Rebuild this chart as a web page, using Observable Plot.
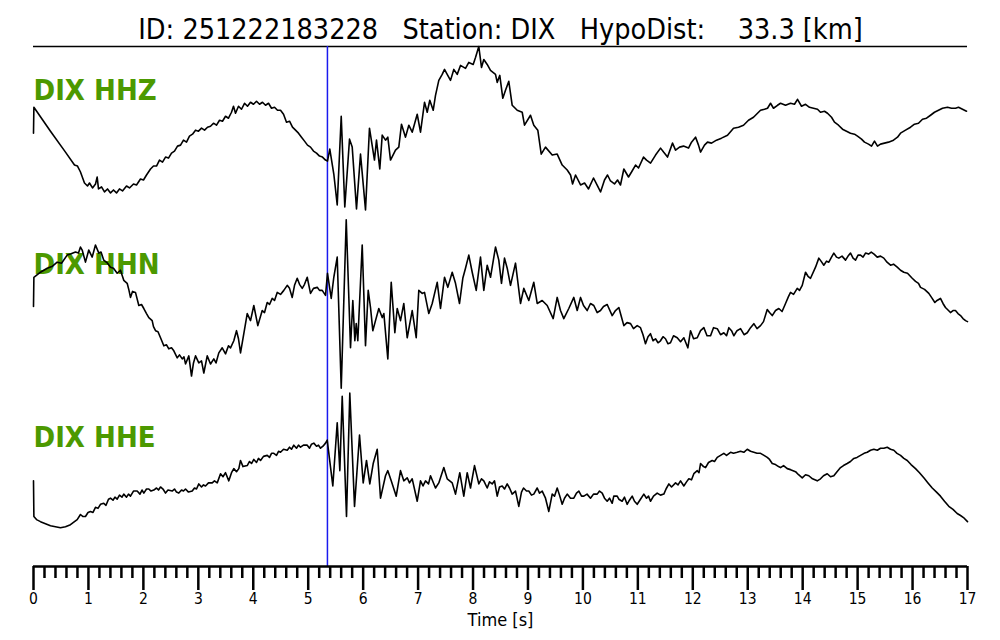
<!DOCTYPE html>
<html><head><meta charset="utf-8">
<script src="https://cdn.jsdelivr.net/npm/d3@7"></script>
<script src="https://cdn.jsdelivr.net/npm/@observablehq/plot@0.6"></script>
<style>
html,body{margin:0;padding:0;background:#fff;}
#chart svg{display:block;}
</style></head><body><div id="chart"></div>
<script>
// ---- metadata ----
const eventId = "251222183228";
const station = "DIX";
const hypoDist = 33.3;
const channels = ["HHZ", "HHN", "HHE"];
const pickTime = 5.35;           // P pick [s]
const majorTicks = [0,1,2,3,4,5,6,7,8,9,10,11,12,13,14,15,16,17];
const tickLabels = ["0","1","2","3","4","5","6","7","8","9","10","11","12","13","14","15","16","17"];

// ---- traces: [time s, amplitude (arbitrary counts)] ----
const hhz = [
[0,0],[0.007,26],[0.309,2],[0.582,-19],[0.746,-32],[0.801,-33],[0.855,-39],[0.928,-50],[0.983,-53],[1.019,-50],
[1.074,-55],[1.129,-51],[1.159,-44],[1.183,-56],[1.238,-54],[1.292,-59],[1.347,-56],[1.402,-60],[1.456,-57],[1.511,-60],
[1.565,-56],[1.620,-58],[1.693,-53],[1.747,-55],[1.820,-51],[1.875,-52],[1.947,-46],[2.002,-47],[2.057,-42],[2.130,-36],
[2.184,-33],[2.239,-33],[2.293,-27],[2.348,-29],[2.403,-24],[2.457,-25],[2.512,-20],[2.566,-18],[2.621,-13],[2.676,-12],
[2.730,-7],[2.785,-9],[2.839,-3],[2.894,-1],[2.949,3],[3.003,2],[3.058,5],[3.113,3],[3.167,6],[3.222,7],
[3.276,10],[3.331,8],[3.386,13],[3.440,12],[3.495,17],[3.549,15],[3.604,21],[3.640,27],[3.677,20],[3.731,27],
[3.786,24],[3.841,30],[3.895,27],[3.950,31],[4.004,29],[4.059,32],[4.114,29],[4.168,31],[4.223,28],[4.278,30],
[4.332,25],[4.387,26],[4.441,23],[4.496,23],[4.551,19],[4.605,11],[4.660,12],[4.714,6],[4.769,3],[4.823,0],
[4.878,-4],[4.933,-8],[4.987,-12],[5.042,-14],[5.096,-18],[5.151,-20],[5.206,-23],[5.260,-24],[5.315,-27],[5.351,-28],
[5.393,-16],[5.466,-41],[5.528,-72],[5.601,17],[5.666,-74],[5.752,-6],[5.801,-14],[5.879,-76],[5.952,-21],[6.043,-77],
[6.115,5],[6.206,-27],[6.243,-7],[6.303,-36],[6.347,-2],[6.407,-7],[6.449,-4],[6.498,-27],[6.589,-17],[6.649,-14],
[6.698,9],[6.771,-4],[6.831,8],[6.893,1],[6.984,19],[7.044,1],[7.117,31],[7.166,21],[7.213,33],[7.275,23],
[7.317,38],[7.377,53],[7.439,59],[7.481,64],[7.530,59],[7.590,53],[7.650,64],[7.712,59],[7.772,68],[7.863,65],
[7.923,71],[8.003,69],[8.045,76],[8.105,87],[8.154,66],[8.196,74],[8.258,69],[8.318,63],[8.409,59],[8.440,51],
[8.487,58],[8.542,35],[8.591,43],[8.651,52],[8.713,28],[8.804,23],[8.895,21],[8.937,8],[9.046,18],[9.106,8],
[9.179,3],[9.241,-21],[9.319,-14],[9.441,-22],[9.532,-21],[9.623,-32],[9.714,-37],[9.775,-42],[9.812,-51],[9.866,-42],
[9.957,-52],[10.030,-50],[10.102,-56],[10.193,-45],[10.266,-53],[10.321,-59],[10.393,-47],[10.448,-42],[10.502,-48],[10.575,-51],
[10.630,-47],[10.684,-52],[10.745,-36],[10.830,-44],[10.885,-39],[10.958,-32],[11.012,-35],[11.103,-24],[11.158,-27],[11.231,-30],
[11.322,-22],[11.413,-15],[11.468,-19],[11.540,-24],[11.631,-10],[11.686,-17],[11.759,-14],[11.831,-13],[11.922,-15],[11.977,-9],
[12.050,-4],[12.104,-12],[12.141,-19],[12.213,-12],[12.268,-9],[12.341,-10],[12.431,-7],[12.522,-5],[12.632,-2],[12.741,5],
[12.832,6],[12.923,8],[13.014,13],[13.105,16],[13.178,20],[13.233,23],[13.305,24],[13.360,25],[13.415,30],[13.469,25],
[13.542,28],[13.597,30],[13.688,28],[13.779,30],[13.851,29],[13.906,34],[13.979,27],[14.052,29],[14.124,26],[14.197,25],
[14.270,24],[14.324,21],[14.397,22],[14.452,20],[14.525,16],[14.579,11],[14.652,8],[14.725,4],[14.798,2],[14.870,0],
[14.943,-1],[14.998,-3],[15.071,-6],[15.125,-9],[15.198,-11],[15.253,-13],[15.307,-8],[15.362,-13],[15.417,-11],[15.489,-10],
[15.562,-9],[15.653,-7],[15.726,-4],[15.781,0],[15.872,3],[15.963,6],[16.035,9],[16.108,10],[16.181,14],[16.254,15],
[16.327,18],[16.399,21],[16.472,23],[16.545,25],[16.636,26],[16.709,25],[16.782,25],[16.836,26],[16.909,24],[16.982,22]
];

const hhn = [
[0,0],[0.007,29],[0.127,34],[0.249,38],[0.346,40],[0.431,44],[0.510,43],[0.613,51],[0.673,52],[0.764,54],
[0.819,53],[0.855,59],[0.886,56],[0.946,44],[1.006,56],[1.068,49],[1.128,61],[1.189,53],[1.229,54],[1.279,46],
[1.347,43],[1.401,39],[1.456,38],[1.523,33],[1.583,36],[1.643,26],[1.705,23],[1.738,16],[1.765,9],[1.802,15],
[1.856,14],[1.917,1],[1.966,2],[2.008,-2],[2.057,-7],[2.099,-11],[2.160,-14],[2.184,-20],[2.221,-24],[2.266,-25],
[2.312,-31],[2.372,-39],[2.421,-38],[2.463,-42],[2.512,-41],[2.554,-44],[2.616,-51],[2.657,-48],[2.707,-52],[2.739,-50],
[2.767,-57],[2.827,-49],[2.876,-69],[2.912,-56],[2.949,-49],[3.009,-56],[3.058,-54],[3.100,-66],[3.162,-49],[3.222,-57],
[3.282,-52],[3.322,-56],[3.373,-46],[3.435,-41],[3.495,-47],[3.549,-39],[3.586,-41],[3.646,-34],[3.695,-24],[3.731,-32],
[3.768,-46],[3.828,-27],[3.890,-7],[3.950,-14],[4.010,1],[4.083,-19],[4.163,-4],[4.205,-6],[4.254,4],[4.296,2],
[4.345,8],[4.387,6],[4.436,14],[4.496,12],[4.556,16],[4.618,21],[4.660,18],[4.709,9],[4.751,21],[4.800,28],
[4.842,22],[4.891,18],[4.933,22],[4.982,29],[5.042,13],[5.096,18],[5.164,19],[5.206,16],[5.255,16],[5.315,11],
[5.351,33],[5.419,8],[5.466,29],[5.528,49],[5.601,-81],[5.692,86],[5.770,-41],[5.812,6],[5.849,-34],[5.874,-17],
[5.903,-34],[5.983,61],[6.043,-39],[6.092,16],[6.134,-1],[6.176,-24],[6.225,-14],[6.285,-2],[6.347,-11],[6.377,-7],
[6.449,-52],[6.511,24],[6.577,-26],[6.620,-2],[6.680,-14],[6.740,3],[6.802,-31],[6.893,-4],[6.966,-31],[7.013,16],
[7.075,13],[7.117,14],[7.195,-7],[7.257,3],[7.348,24],[7.408,-2],[7.481,29],[7.541,19],[7.621,34],[7.681,23],
[7.754,3],[7.814,28],[7.863,38],[7.923,51],[7.985,34],[8.058,16],[8.136,49],[8.196,16],[8.258,41],[8.318,29],
[8.409,59],[8.469,46],[8.518,23],[8.573,48],[8.622,38],[8.682,21],[8.773,43],[8.864,3],[8.924,18],[9.015,6],
[9.106,24],[9.168,3],[9.259,6],[9.350,1],[9.459,-12],[9.532,9],[9.592,-4],[9.652,-12],[9.743,-2],[9.834,9],
[9.896,-4],[9.957,9],[10.011,1],[10.078,-4],[10.138,3],[10.198,1],[10.260,-6],[10.320,-4],[10.375,0],[10.442,2],
[10.533,-9],[10.593,-4],[10.654,-1],[10.694,-9],[10.745,-19],[10.803,-16],[10.867,-17],[10.921,-22],[10.988,-19],[11.048,-21],
[11.094,-28],[11.139,-37],[11.185,-30],[11.230,-27],[11.276,-34],[11.321,-32],[11.367,-36],[11.412,-34],[11.458,-30],[11.503,-32],
[11.549,-37],[11.594,-36],[11.649,-29],[11.717,-31],[11.777,-35],[11.837,-31],[11.910,-41],[11.959,-24],[12.014,-32],[12.081,-31],
[12.141,-24],[12.201,-21],[12.259,-29],[12.323,-29],[12.377,-21],[12.445,-22],[12.505,-28],[12.565,-26],[12.614,-29],[12.656,-21],
[12.705,-24],[12.747,-29],[12.805,-24],[12.869,-22],[12.933,-28],[12.991,-26],[13.051,-21],[13.111,-17],[13.169,-22],[13.233,-19],
[13.287,-15],[13.355,-3],[13.397,-6],[13.446,-9],[13.506,-4],[13.566,-2],[13.625,-5],[13.688,3],[13.743,10],[13.779,14],
[13.834,12],[13.901,18],[13.943,16],[13.992,21],[14.052,34],[14.097,30],[14.143,28],[14.234,39],[14.294,48],[14.334,45],
[14.385,41],[14.434,45],[14.476,44],[14.525,49],[14.567,53],[14.616,49],[14.658,48],[14.716,50],[14.780,46],[14.826,50],
[14.871,53],[14.917,48],[14.962,46],[15.008,51],[15.053,51],[15.099,49],[15.144,53],[15.199,52],[15.248,54],[15.299,52],
[15.357,49],[15.417,50],[15.477,48],[15.535,44],[15.599,41],[15.654,42],[15.721,39],[15.781,36],[15.841,34],[15.908,33],
[15.994,28],[16.054,25],[16.108,23],[16.145,19],[16.218,17],[16.296,13],[16.345,9],[16.406,4],[16.446,6],[16.508,8],
[16.554,3],[16.599,-1],[16.654,-4],[16.690,-6],[16.736,-4],[16.781,-4],[16.827,-7],[16.873,-9],[16.918,-12],[16.964,-14],
[17.0,-15]
];

const hhe = [
[0,-1],[0.007,-36],[0.055,-39],[0.127,-41],[0.218,-43],[0.309,-45],[0.400,-46],[0.491,-47],[0.582,-46],[0.673,-44],
[0.746,-41],[0.795,-39],[0.855,-34],[0.901,-36],[0.946,-36],[0.992,-32],[1.037,-31],[1.083,-32],[1.128,-27],[1.174,-28],
[1.219,-24],[1.279,-23],[1.320,-25],[1.365,-19],[1.401,-18],[1.447,-20],[1.483,-17],[1.523,-19],[1.565,-15],[1.611,-17],
[1.643,-14],[1.693,-17],[1.729,-14],[1.765,-16],[1.820,-11],[1.887,-11],[1.938,-14],[1.975,-10],[2.008,-13],[2.057,-9],
[2.099,-9],[2.139,-11],[2.190,-10],[2.239,-8],[2.275,-10],[2.312,-7],[2.357,-9],[2.403,-13],[2.448,-10],[2.525,-11],
[2.566,-9],[2.603,-12],[2.645,-13],[2.694,-10],[2.730,-11],[2.767,-9],[2.821,-12],[2.889,-11],[2.930,-8],[2.967,-9],
[3.009,-4],[3.058,-7],[3.094,-5],[3.131,-6],[3.185,-3],[3.253,-3],[3.294,-1],[3.344,-3],[3.404,6],[3.449,3],
[3.495,7],[3.555,-1],[3.604,7],[3.646,11],[3.695,8],[3.737,11],[3.768,19],[3.813,13],[3.890,14],[3.932,18],
[3.968,16],[4.010,20],[4.059,17],[4.095,21],[4.132,19],[4.186,23],[4.254,24],[4.296,22],[4.332,26],[4.374,26],
[4.423,24],[4.460,28],[4.496,27],[4.551,30],[4.618,29],[4.660,32],[4.696,30],[4.738,34],[4.787,31],[4.823,34],
[4.860,32],[4.914,34],[4.982,34],[5.024,31],[5.060,35],[5.102,36],[5.151,33],[5.187,34],[5.224,31],[5.269,33],
[5.315,36],[5.346,39],[5.448,-6],[5.528,56],[5.576,9],[5.619,82],[5.697,-36],[5.757,85],[5.843,-26],[5.934,44],
[6.001,-3],[6.061,19],[6.121,-4],[6.183,16],[6.256,30],[6.316,-18],[6.407,4],[6.449,9],[6.511,-1],[6.602,-16],
[6.680,9],[6.740,-1],[6.802,2],[6.844,-3],[6.893,1],[6.984,-21],[7.044,-1],[7.090,-6],[7.135,-1],[7.190,-4],
[7.226,4],[7.317,-8],[7.377,-3],[7.468,12],[7.530,1],[7.621,-3],[7.681,-14],[7.759,7],[7.832,-16],[7.894,7],
[7.954,-8],[8.027,14],[8.105,-4],[8.154,1],[8.196,-1],[8.258,-8],[8.300,-2],[8.349,-4],[8.391,-1],[8.440,-16],
[8.482,-7],[8.531,-6],[8.573,-9],[8.622,-4],[8.664,-8],[8.713,-14],[8.773,-11],[8.833,-26],[8.882,-12],[8.919,-8],
[8.973,-11],[9.015,-11],[9.064,-15],[9.106,-14],[9.168,-8],[9.210,-13],[9.259,-11],[9.319,-18],[9.379,-31],[9.441,-14],
[9.483,-16],[9.532,-8],[9.574,-15],[9.623,-24],[9.665,-18],[9.714,-14],[9.774,-18],[9.834,-18],[9.883,-13],[9.926,-11],
[9.975,-16],[10.017,-16],[10.075,-14],[10.138,-18],[10.193,-14],[10.260,-14],[10.302,-11],[10.351,-13],[10.393,-18],[10.442,-21],
[10.484,-18],[10.533,-23],[10.562,-16],[10.624,-16],[10.654,-19],[10.714,-21],[10.757,-17],[10.805,-24],[10.847,-20],[10.897,-16],
[10.939,-21],[10.988,-24],[11.048,-19],[11.109,-14],[11.158,-18],[11.194,-16],[11.230,-21],[11.285,-16],[11.352,-13],[11.412,-15],
[11.473,-14],[11.513,-9],[11.565,-4],[11.613,-7],[11.686,-3],[11.731,-5],[11.777,-1],[11.837,-6],[11.886,-2],[11.928,1],
[11.977,0],[12.019,6],[12.081,9],[12.113,7],[12.141,16],[12.195,13],[12.232,12],[12.286,17],[12.353,19],[12.395,18],
[12.445,22],[12.505,24],[12.565,26],[12.614,24],[12.687,27],[12.741,26],[12.808,27],[12.869,28],[12.929,27],[12.991,30],
[13.051,28],[13.111,27],[13.169,26],[13.233,26],[13.296,24],[13.355,22],[13.397,20],[13.446,16],[13.506,15],[13.561,13],
[13.597,12],[13.652,14],[13.719,11],[13.779,10],[13.870,8],[13.925,5],[13.992,2],[14.052,5],[14.112,4],[14.179,1],
[14.265,-1],[14.325,1],[14.379,4],[14.447,6],[14.507,3],[14.567,4],[14.625,8],[14.689,12],[14.743,14],[14.810,16],
[14.870,18],[14.931,21],[14.989,22],[15.053,24],[15.117,26],[15.175,27],[15.235,29],[15.296,30],[15.358,29],[15.417,31],
[15.477,31],[15.539,32],[15.599,30],[15.659,29],[15.717,26],[15.781,24],[15.841,21],[15.903,19],[15.972,15],[16.054,11],
[16.126,7],[16.205,2],[16.281,-3],[16.358,-8],[16.436,-12],[16.508,-16],[16.581,-21],[16.660,-26],[16.736,-29],[16.812,-33],
[16.873,-35],[16.927,-37],[17.0,-41]
];

// ---- build table: each trace normalised to its max |amplitude|, stacked ----
const traces = {HHZ: hhz, HHN: hhn, HHE: hhe};
const offsets = {HHZ: 2, HHN: 0, HHE: -2};
const rows = [];
for (const ch of channels) {
  const tr = traces[ch];
  const m = d3.max(tr, d => Math.abs(d[1]));
  for (const [t, a] of tr) rows.push({ch, t, v: offsets[ch] + a / m});
}
const labelRows = channels.map(ch => ({ch, y: offsets[ch] + 0.377, text: `${station} ${ch}`}));
const minorTicks = d3.range(1, 85).filter(i => i % 5 !== 0).map(i => i / 5);

const NB = "\u00a0";
const title = `ID: ${eventId}${NB.repeat(3)}Station: ${station}${NB.repeat(3)}HypoDist:${NB.repeat(4)}${hypoDist.toFixed(1)} [km]`;
const FONT = '"DejaVu Sans Condensed", "DejaVu Sans", sans-serif';

const chart = Plot.plot({
  width: 1000, height: 640,
  marginTop: 46, marginBottom: 74, marginLeft: 33, marginRight: 33,
  x: {domain: [0, 17], axis: null},
  y: {domain: [-3, 3], axis: null},
  style: {fontFamily: FONT, fontStretch: "condensed", background: "white", color: "black", overflow: "visible"},
  marks: [
    Plot.text([title], {frameAnchor: "top", dy: -8, lineAnchor: "bottom", fontSize: 28.5, fill: "black"}),
    Plot.ruleY([3], {stroke: "black", strokeWidth: 1.5}),
    Plot.text(labelRows, {x: 0, y: "y", text: "text", textAnchor: "start", lineAnchor: "bottom",
      fontSize: 29, fontWeight: "bold", fill: "#4c9900"}),
    Plot.ruleX([pickTime], {stroke: "#1a1aee", strokeWidth: 1.5}),
    Plot.line(rows, {x: "t", y: "v", z: "ch", stroke: "black", strokeWidth: 1.6, strokeLinejoin: "round"}),
    Plot.ruleY([-3], {stroke: "black", strokeWidth: 2.5}),
    Plot.axisX(minorTicks, {tickSize: 12, strokeWidth: 2.5, tickFormat: () => "", label: null}),
    Plot.axisX(majorTicks, {tickSize: 24, strokeWidth: 2.5, tickPadding: 2, fontSize: 15.5,
      tickFormat: d => tickLabels[majorTicks.indexOf(d)], label: null}),
    Plot.text(["Time [s]"], {frameAnchor: "bottom", dy: 59, lineAnchor: "bottom", fontSize: 18, fill: "black"})
  ]
});
document.getElementById("chart").appendChild(chart);
</script>
</body></html>
